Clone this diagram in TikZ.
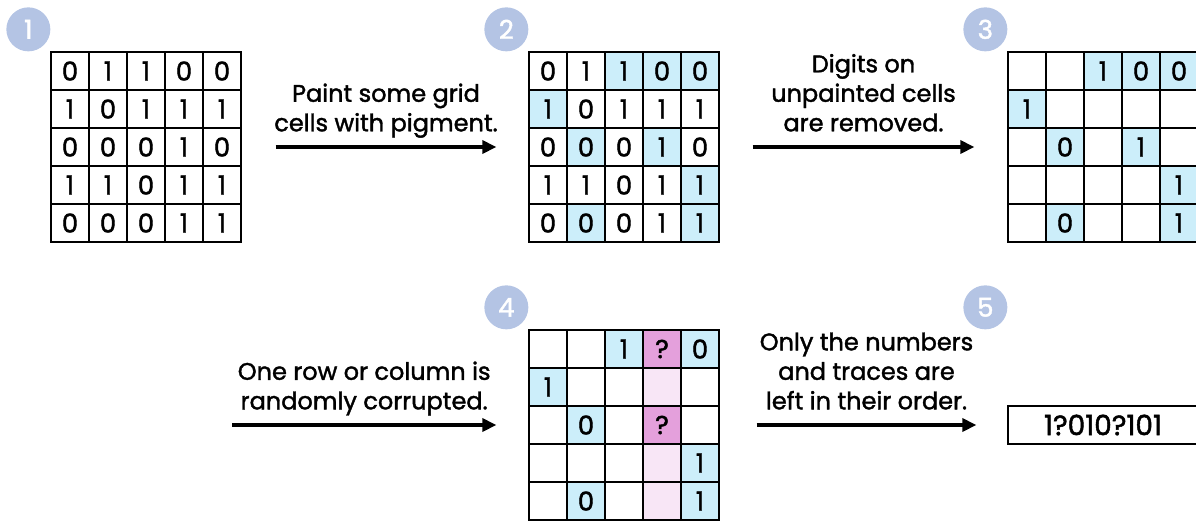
\documentclass[tikz,border=0pt]{standalone}
\usepackage{fontspec}
\setmainfont{Poppins}[FakeBold=1.6]
\usetikzlibrary{arrows.meta,positioning}

\definecolor{stepblue}{RGB}{180,196,228}
\definecolor{paintblue}{RGB}{204,238,250}
\definecolor{tracepink}{RGB}{228,160,220}
\definecolor{lightpink}{RGB}{248,230,246}

\begin{document}
\begin{tikzpicture}[x=1pt, y=-1pt,
    cell/.style={rectangle, draw, line width=1.3pt, minimum size=38pt, inner sep=0pt, font=\fontsize{26}{26}\selectfont},
    plain/.style={cell},
    paint/.style={cell, fill=paintblue},
    qmark/.style={cell, fill=tracepink},
    trace/.style={cell, fill=lightpink},
    stepnum/.style={circle, fill=stepblue, text=white, minimum size=44pt, inner sep=0pt, font=\fontsize{26}{26}\selectfont},
    resultbox/.style={rectangle, draw, line width=1.3pt, minimum width=190pt, minimum height=38pt, font=\fontsize{28}{28}\selectfont},
    line/.style={draw, line width=3.4pt, -{Triangle[length=14pt, width=13pt]}},
    caption/.style={align=center, anchor=south, inner sep=0pt, text depth=6pt, yshift=8pt, font=\fontsize{24}{29.5}\selectfont}]

    \useasboundingbox (0,0) rectangle (1196,520);

    % grid 1: the digits
    \foreach \row [count=\r] in {{0,1,1,0,0},{1,0,1,1,1},{0,0,0,1,0},{1,1,0,1,1},{0,0,0,1,1}}
        \foreach \d [count=\c] in \row
            \node [plain] (ga-\r-\c) at (51+\c*38-19, 52+\r*38-19) {\d};

    % grid 2: some cells painted
    \foreach \row [count=\r] in {{0/plain,1/plain,1/paint,0/paint,0/paint},
                                 {1/paint,0/plain,1/plain,1/plain,1/plain},
                                 {0/plain,0/paint,0/plain,1/paint,0/plain},
                                 {1/plain,1/plain,0/plain,1/plain,1/paint},
                                 {0/plain,0/paint,0/plain,1/plain,1/paint}}
        \foreach \d/\s [count=\c] in \row
            \node [\s] (gb-\r-\c) at (529+\c*38-19, 52+\r*38-19) {\d};

    % grid 3: only painted digits left
    \foreach \row [count=\r] in {{/plain,/plain,1/paint,0/paint,0/paint},
                                 {1/paint,/plain,/plain,/plain,/plain},
                                 {/plain,0/paint,/plain,1/paint,/plain},
                                 {/plain,/plain,/plain,/plain,1/paint},
                                 {/plain,0/paint,/plain,/plain,1/paint}}
        \foreach \d/\s [count=\c] in \row
            \node [\s] (gc-\r-\c) at (1008+\c*38-19, 52+\r*38-19) {\d};

    % grid 4: column 4 corrupted
    \foreach \row [count=\r] in {{/plain,/plain,1/paint,?/qmark,0/paint},
                                 {1/paint,/plain,/plain,/trace,/plain},
                                 {/plain,0/paint,/plain,?/qmark,/plain},
                                 {/plain,/plain,/plain,/trace,1/paint},
                                 {/plain,0/paint,/plain,/trace,1/paint}}
        \foreach \d/\s [count=\c] in \row
            \node [\s] (gd-\r-\c) at (529+\c*38-19, 330+\r*38-19) {\d};

    \node [resultbox] (result) at (1103,425) {1?010?101};

    % step numbers
    \node [stepnum] (s1) at ([xshift=-22pt, yshift=22pt]ga-1-1.north west) {1};
    \node [stepnum] (s2) at ([xshift=-22pt, yshift=22pt]gb-1-1.north west) {2};
    \node [stepnum] (s3) at ([xshift=-22pt, yshift=22pt]gc-1-1.north west) {3};
    \node [stepnum] (s4) at ([xshift=-22pt, yshift=22pt]gd-1-1.north west) {4};
    \node [stepnum] (s5) at (s3 |- s4) {5};

    \coordinate (start4) at (232,425);

    \path [line] ([xshift=34pt]ga-3-5.east) -- ([xshift=-32pt]gb-3-1.west)
        node [midway, caption] {Paint some grid\\cells with pigment.};
    \path [line] ([xshift=33pt]gb-3-5.east) -- ([xshift=-33pt]gc-3-1.west)
        node [midway, caption] {Digits on\\unpainted cells\\are removed.};
    \path [line] (start4) -- ([xshift=-32pt]gd-3-1.west)
        node [midway, caption] {One row or column is\\randomly corrupted.};
    \path [line] ([xshift=37pt]gd-3-5.east) -- ([xshift=-31pt]result.west)
        node [midway, caption] {Only the numbers\\and traces are\\left in their order.};
\end{tikzpicture}
\end{document}
